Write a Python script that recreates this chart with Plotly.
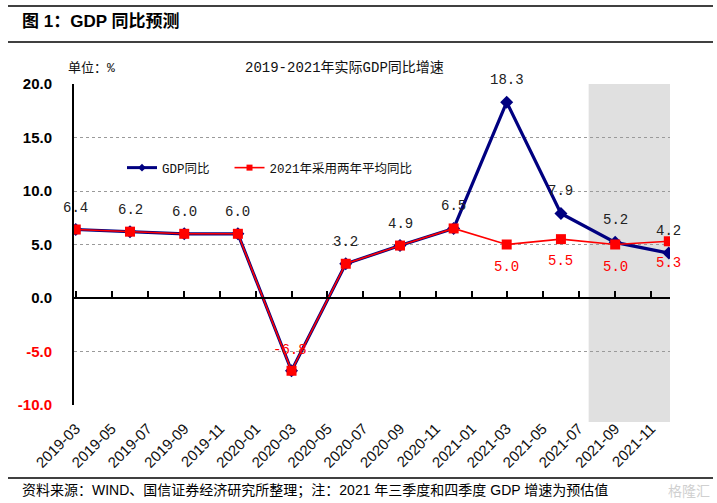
import plotly.graph_objects as go

# ---------------- data ----------------
quarters = ["2019-03-01", "2019-06-01", "2019-09-01", "2019-12-01",
            "2020-03-01", "2020-06-01", "2020-09-01", "2020-12-01",
            "2021-03-01", "2021-06-01", "2021-09-01", "2021-12-01"]
gdp_yoy = [6.4, 6.2, 6.0, 6.0, -6.8, 3.2, 4.9, 6.5, 18.3, 7.9, 5.2, 4.2]
two_year_avg = [6.4, 6.2, 6.0, 6.0, -6.8, 3.2, 4.9, 6.5, 5.0, 5.5, 5.0, 5.3]
gdp_label_idx = [0, 1, 2, 3, 5, 6, 7, 8, 9, 10, 11]
avg_label_idx = [4, 8, 9, 10, 11]
y_ticks = [-10, -5, 0, 5, 10, 15, 20]
y_tick_labels = ["-10.0", "-5.0", "0.0", "5.0", "10.0", "15.0", "20.0"]
x_range = ["2019-02-26", "2021-12-03"]
forecast_start = "2021-07-18"
series_names = ["GDP同比", "2021年采用两年平均同比"]

# ---------------- layout helpers ----------------
W, H = 717, 503
ML, MR, MT, MB = 74, 47, 84, 98
PW, PH = W - ML - MR, H - MT - MB


def px_x(px):
    return (px - ML) / PW


def px_y(py):
    return (H - MB - py) / PH


NAVY = "#000080"
RED = "#FF0000"
MONO = "Liberation Mono, Noto Sans CJK SC"

fig = go.Figure()

fig.add_trace(go.Scatter(
    x=quarters, y=gdp_yoy, mode="lines+markers", name=series_names[0],
    line=dict(color=NAVY, width=3.2),
    marker=dict(symbol="diamond", size=10, color=NAVY),
    showlegend=False, hoverinfo="skip"))
fig.add_trace(go.Scatter(
    x=quarters, y=two_year_avg, mode="lines+markers", name=series_names[1],
    line=dict(color=RED, width=1.6),
    marker=dict(symbol="square", size=10, color=RED),
    showlegend=False, hoverinfo="skip"))
# invisible trace on the zero-crossing axis
fig.add_trace(go.Scatter(
    x=quarters, y=gdp_yoy, xaxis="x2", mode="lines", opacity=0,
    line=dict(width=0), showlegend=False, hoverinfo="skip"))
# legend entries with small markers
fig.add_trace(go.Scatter(
    x=[None], y=[None], mode="lines+markers", name=series_names[0] + "\u00a0\u00a0",
    line=dict(color=NAVY, width=3), marker=dict(symbol="diamond", size=6, color=NAVY)))
fig.add_trace(go.Scatter(
    x=[None], y=[None], mode="lines+markers", name=series_names[1],
    line=dict(color=RED, width=1.6), marker=dict(symbol="square", size=6, color=RED)))

annotations = []
for i in gdp_label_idx:
    annotations.append(dict(x=quarters[i], y=gdp_yoy[i], xref="x", yref="y",
                            text=f"{gdp_yoy[i]:.1f}", showarrow=False, yshift=22,
                            font=dict(family=MONO, size=14, color="#222222")))
for i in avg_label_idx:
    ys = 21 if two_year_avg[i] < 0 else -22
    annotations.append(dict(x=quarters[i], y=two_year_avg[i], xref="x", yref="y",
                            text=f"{two_year_avg[i]:.1f}", showarrow=False, yshift=ys,
                            xshift=-2 if two_year_avg[i] < 0 else 0,
                            font=dict(family=MONO, size=14, color=RED)))

# titles and notes
annotations += [
    dict(x=px_x(20), y=px_y(22), xref="paper", yref="paper", xanchor="left", yanchor="middle",
         text="<b>图 1：GDP 同比预测</b>", showarrow=False,
         font=dict(family="Liberation Sans, Noto Sans CJK SC", size=17, color="#000000")),
    dict(x=px_x(344), y=px_y(68), xref="paper", yref="paper", xanchor="center", yanchor="middle",
         text="2019-2021年实际GDP同比增速", showarrow=False,
         font=dict(family=MONO, size=14, color="#111111")),
    dict(x=px_x(66), y=px_y(68), xref="paper", yref="paper", xanchor="left", yanchor="middle",
         text="单位：%", showarrow=False,
         font=dict(family=MONO, size=13, color="#111111")),
    dict(x=px_x(20), y=px_y(490), xref="paper", yref="paper", xanchor="left", yanchor="middle",
         text="资料来源：WIND、国信证券经济研究所整理；注：2021 年三季度和四季度 GDP 增速为预估值",
         showarrow=False,
         font=dict(family="Liberation Sans, Noto Sans CJK SC", size=14, color="#000000")),
    dict(x=px_x(712), y=px_y(490), xref="paper", yref="paper", xanchor="right", yanchor="middle",
         text="格隆汇", showarrow=False,
         font=dict(family="Noto Sans CJK SC", size=14, color="#d0d0d0")),
]

shapes = [
    dict(type="rect", xref="x", yref="paper", x0=forecast_start, x1=x_range[1],
         y0=px_y(422), y1=1, fillcolor="#e0e0e0", line=dict(width=0), layer="below"),
    dict(type="line", xref="paper", yref="paper", x0=px_x(8), x1=px_x(713),
         y0=px_y(6), y1=px_y(6), line=dict(color="#000000", width=1.5)),
    dict(type="line", xref="paper", yref="paper", x0=px_x(8), x1=px_x(713),
         y0=px_y(42), y1=px_y(42), line=dict(color="#000000", width=1.5)),
    dict(type="line", xref="paper", yref="paper", x0=px_x(8), x1=px_x(713),
         y0=px_y(478), y1=px_y(478), line=dict(color="#000000", width=1.5)),
]

y_text = [f'<span style="color:{RED}">{t}</span>' if v < 0 else t
          for v, t in zip(y_ticks, y_tick_labels)]

fig.update_layout(
    width=W, height=H, autosize=False,
    margin=dict(l=ML, r=MR, t=MT, b=MB, pad=0),
    paper_bgcolor="white", plot_bgcolor="rgba(0,0,0,0)",
    font=dict(family="Liberation Sans, Noto Sans CJK SC", color="#000000"),
    xaxis=dict(type="date", range=x_range, tick0="2019-03-01", dtick="M2",
               tickformat="%Y-%m", tickangle=-45, showgrid=False, zeroline=False,
               showline=False, ticks="", ticklabelstandoff=11,
               tickfont=dict(size=15, color="#111111")),
    xaxis2=dict(type="date", range=x_range, tick0="2019-03-01", dtick="M2",
                overlaying="x", anchor="free", position=px_y(H - MB - PH / 3), side="bottom",
                showticklabels=False, showgrid=False, zeroline=False,
                showline=True, linecolor="#000000", linewidth=2,
                ticks="inside", ticklen=6, tickwidth=1.5, tickcolor="#000000"),
    yaxis=dict(range=[-10, 20], tickvals=y_ticks, ticktext=y_text,
               showgrid=True, gridcolor="#9a9a9a", griddash="dot", gridwidth=1,
               zeroline=False, showline=True, linecolor="#000000", linewidth=2,
               ticks="", ticklabelstandoff=17,
               tickfont=dict(size=15, color="#000000", weight="bold")),
    legend=dict(orientation="h", x=px_x(122), xanchor="left", y=px_y(168), yanchor="middle",
                bgcolor="rgba(0,0,0,0)", font=dict(family=MONO, size=12.5, color="#111111"),
                itemwidth=30, tracegroupgap=0),
    annotations=annotations, shapes=shapes,
)

fig.write_html("out.html", config={"displayModeBar": False},
               post_script="document.body.style.margin='0px';document.body.style.overflow='hidden';")
